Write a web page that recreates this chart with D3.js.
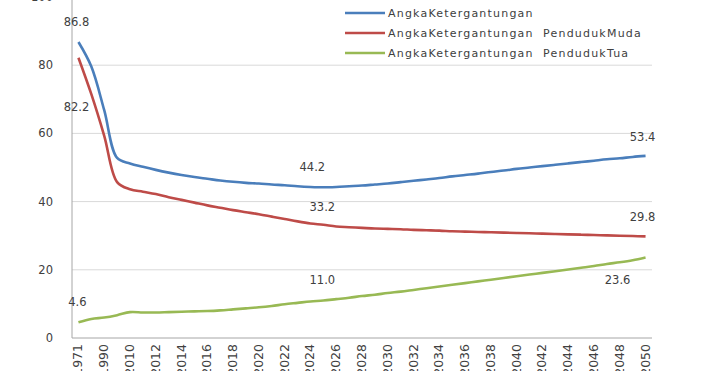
<!DOCTYPE html>
<html>
<head>
<meta charset="utf-8">
<script src="https://cdn.jsdelivr.net/npm/d3@7"></script>
<style>
body { margin: 0; background: #fff; }
text { font-family: "DejaVu Sans", Verdana, sans-serif; fill: #404040; }
</style>
</head>
<body>
<script>
// categories (first few are decades, then yearly)
var years = ["1971", "1980", "1990", "2000", "2010"];
for (var yr = 2011; yr <= 2050; yr++) years.push(String(yr));

// tick labels shown on x axis
var xTickLabels = ["1971", "1990", "2010", "2012", "2014", "2016", "2018", "2020", "2022", "2024", "2026",
	"2028", "2030", "2032", "2034", "2036", "2038", "2040", "2042", "2044", "2046", "2048", "2050"];
var yTicks = [0, 20, 40, 60, 80, 100];

// series values
var total = [86.8, 79.6, 66.8, 52.8, 51.2, 50.2, 49.3, 48.5, 47.8, 47.2, 46.7, 46.2, 45.8, 45.5, 45.3,
	45.0, 44.8, 44.5, 44.3, 44.2, 44.3, 44.5, 44.7, 45.0, 45.3, 45.7, 46.1, 46.5, 46.9, 47.4,
	47.8, 48.2, 48.7, 49.1, 49.6, 50.0, 50.4, 50.8, 51.2, 51.6, 52.0, 52.4, 52.7, 53.1, 53.4];
var young = [82.2, 71.5, 59.3, 45.7, 43.6, 42.9, 42.2, 41.3, 40.5, 39.7, 38.9, 38.2, 37.5, 36.9, 36.3,
	35.6, 34.9, 34.2, 33.6, 33.2, 32.7, 32.5, 32.3, 32.1, 32.0, 31.9, 31.7, 31.6, 31.5, 31.3,
	31.2, 31.1, 31.0, 30.9, 30.8, 30.7, 30.6, 30.5, 30.4, 30.3, 30.2, 30.1, 30.0, 29.9, 29.8];
var elderly = [4.6, 5.6, 6.0, 6.7, 7.6, 7.5, 7.5, 7.6, 7.7, 7.8, 7.9, 8.1, 8.4, 8.7, 9.0,
	9.4, 9.9, 10.3, 10.7, 11.0, 11.4, 11.8, 12.3, 12.7, 13.2, 13.6, 14.1, 14.6, 15.1, 15.6,
	16.1, 16.6, 17.1, 17.6, 18.1, 18.6, 19.1, 19.6, 20.1, 20.6, 21.1, 21.7, 22.2, 22.8, 23.6];

var seriesNames = ["AngkaKetergantungan", "AngkaKetergantungan  PendudukMuda", "AngkaKetergantungan  PendudukTua"];
var seriesColors = ["#4a7ebb", "#be4b48", "#98b954"];
var seriesValues = [total, young, elderly];

// data labels: series index, year
var labelSeries = [0, 1, 2, 0, 1, 2, 0, 1, 2];
var labelYears = ["1971", "1971", "1971", "2025", "2025", "2025", "2050", "2050", "2050"];
// label offsets from their point (dx, dy)
var labelOffsets = [[-2, -20], [-2, 49], [-1, -20], [-11, -20], [-1, -18], [-1, -20], [-3, -19], [-3, -19], [-28, 22]];

var width = 708, height = 371;
var plotLeft = 72, plotRight = 652, plotBottom = 338, plotTop = -3;

var svg = d3.select("body").append("svg")
	.attr("width", width)
	.attr("height", height);

var x = d3.scaleBand().domain(years).range([plotLeft, plotRight]);
var y = d3.scaleLinear().domain([0, 100]).range([plotBottom, plotTop]);
function cx(year) { return x(year) + x.bandwidth() / 2; }

// grid lines
svg.selectAll("line.grid")
	.data(yTicks.slice(1))
	.enter()
	.append("line")
	.attr("class", "grid")
	.attr("x1", plotLeft).attr("x2", plotRight)
	.attr("y1", function(d) { return y(d); })
	.attr("y2", function(d) { return y(d); })
	.attr("stroke", "#d9d9d9")
	.attr("stroke-width", 1);

// axes lines
svg.append("line")
	.attr("x1", plotLeft).attr("x2", plotLeft).attr("y1", 0).attr("y2", plotBottom)
	.attr("stroke", "#a6a6a6");
svg.append("line")
	.attr("x1", plotLeft).attr("x2", plotRight).attr("y1", plotBottom).attr("y2", plotBottom)
	.attr("stroke", "#a6a6a6");

// y tick labels
svg.selectAll("text.ytick")
	.data(yTicks)
	.enter()
	.append("text")
	.attr("class", "ytick")
	.attr("x", 53)
	.attr("y", function(d) { return y(d) + 4; })
	.attr("text-anchor", "end")
	.attr("font-size", 11.5)
	.text(function(d) { return d; });

// x tick labels (rotated)
svg.selectAll("text.xtick")
	.data(xTickLabels)
	.enter()
	.append("text")
	.attr("class", "xtick")
	.attr("transform", function(d) { return "translate(" + (cx(d) + 4) + ",344) rotate(-90)"; })
	.attr("text-anchor", "end")
	.attr("font-size", 12.5)
	.text(function(d) { return d; });

// lines
var line = d3.line()
	.x(function(d, i) { return cx(years[i]); })
	.y(function(d) { return y(d); })
	.curve(d3.curveCatmullRom.alpha(0.5));

svg.selectAll("path.series")
	.data(seriesValues)
	.enter()
	.append("path")
	.attr("class", "series")
	.attr("d", function(d) { return line(d); })
	.attr("fill", "none")
	.attr("stroke", function(d, i) { return seriesColors[i]; })
	.attr("stroke-width", 2.6)
	.attr("stroke-linejoin", "round");

// data labels
svg.selectAll("text.dlabel")
	.data(labelSeries)
	.enter()
	.append("text")
	.attr("class", "dlabel")
	.attr("x", function(d, i) { return cx(labelYears[i]) + labelOffsets[i][0]; })
	.attr("y", function(d, i) {
		var v = seriesValues[d][years.indexOf(labelYears[i])];
		return y(v) + labelOffsets[i][1] + 4;
	})
	.attr("text-anchor", "middle")
	.attr("font-size", 11.5)
	.text(function(d, i) { return seriesValues[d][years.indexOf(labelYears[i])].toFixed(1); });

// legend
var legend = svg.selectAll("g.legend")
	.data(seriesNames)
	.enter()
	.append("g")
	.attr("class", "legend")
	.attr("transform", function(d, i) { return "translate(345," + (13 + i * 20) + ")"; });
legend.append("line")
	.attr("x1", 0).attr("x2", 40).attr("y1", 0).attr("y2", 0)
	.attr("stroke", function(d, i) { return seriesColors[i]; })
	.attr("stroke-width", 2.6);
legend.append("text")
	.attr("x", 43)
	.attr("y", 4)
	.attr("font-size", 11)
	.attr("letter-spacing", 1.2)
	.style("white-space", "pre")
	.text(function(d) { return d; });
</script>
</body>
</html>
